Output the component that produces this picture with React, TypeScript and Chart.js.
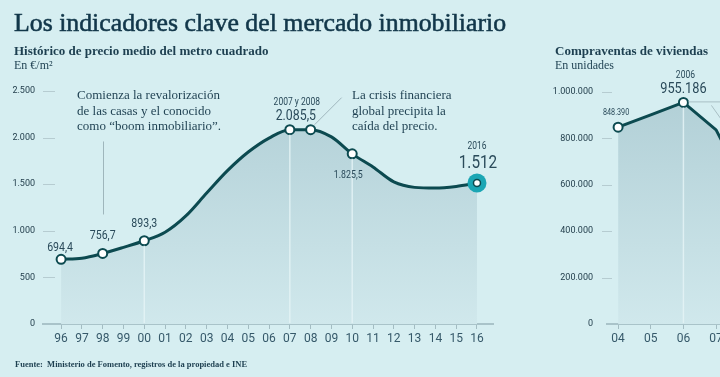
import React, { useEffect, useRef } from "react";
import { Chart, registerables } from "chart.js";

Chart.register(...registerables);

// ---------- DATA ----------
const priceYears = [1996, 1997, 1998, 1999, 2000, 2001, 2002, 2003, 2004, 2005, 2006, 2007, 2008, 2009, 2010, 2011, 2012, 2013, 2014, 2015, 2016];
const priceYearLabels = ["96", "97", "98", "99", "00", "01", "02", "03", "04", "05", "06", "07", "08", "09", "10", "11", "12", "13", "14", "15", "16"];
const priceValues = [694.4, 706, 756.7, 822, 893.3, 985, 1160, 1405, 1645, 1845, 1995, 2085.5, 2085.5, 2008, 1825.5, 1685, 1525, 1466, 1458, 1476, 1512];
const priceYTicks = [0, 500, 1000, 1500, 2000, 2500];
const priceMarkedYears = [1996, 1998, 2000, 2007, 2008, 2010];
const priceDropLineYears = [2000, 2007, 2010];

const salesYears = [2004, 2005, 2006, 2007, 2008];
const salesYearLabels = ["04", "05", "06", "07", "08"];
const salesValues = [848390, 901574, 955186, 836871, 564464];
const salesYTicks = [0, 200000, 400000, 600000, 800000, 1000000];
const salesMarkedYears = [2004, 2006];
const salesDropLineYears = [2006];

// ---------- STYLE ----------
const BG = "#d6eef1";
const LINE = "#0c4a50";
const TEXT = "#1d3f50";
const NUM = "#2a4a5a";
const HALO = "#1ba6b4";

function fmtEs(v: number, dec = 0): string {
  const [i, d] = v.toFixed(dec).split(".");
  const int = i.replace(/\B(?=(\d{3})+(?!\d))/g, ".");
  return d ? int + "," + d : int;
}

function txt(ctx: CanvasRenderingContext2D, s: string, x: number, y: number, font: string, color: string, sx = 1, align: CanvasTextAlign = "center") {
  ctx.save();
  ctx.font = font;
  ctx.fillStyle = color;
  ctx.textAlign = align;
  ctx.textBaseline = "alphabetic";
  ctx.translate(x, y);
  ctx.scale(sx, 1);
  ctx.fillText(s, 0, 0);
  ctx.restore();
}

function seg(ctx: CanvasRenderingContext2D, x1: number, y1: number, x2: number, y2: number) {
  ctx.beginPath();
  ctx.moveTo(x1, y1);
  ctx.lineTo(x2, y2);
  ctx.stroke();
}

function fillGradient(chart: any) {
  const { ctx, chartArea } = chart;
  if (!chartArea) return "#c2dde3";
  const g = ctx.createLinearGradient(0, chartArea.top, 0, chartArea.bottom);
  g.addColorStop(0, "#b1cfd6");
  g.addColorStop(1, "#d0e8ec");
  return g;
}

const NUMFONT = "Roboto, 'DejaVu Sans', sans-serif";

const pricePlugin = {
  id: "priceDecor",
  afterDatasetsDraw(chart: any) {
    const { ctx, chartArea } = chart;
    const xs = chart.scales.x;
    const ys = chart.scales.y;
    const px = (yr: number) => xs.getPixelForValue(yr);
    const py = (yr: number) => ys.getPixelForValue(priceValues[priceYears.indexOf(yr)]);
    ctx.save();
    // y tick dashes
    ctx.strokeStyle = "#b6ccd1";
    ctx.lineWidth = 1;
    priceYTicks.forEach((t) => {
      if (t === 0) return;
      const y = Math.round(ys.getPixelForValue(t)) + 0.5;
      seg(ctx, chartArea.left, y, chartArea.left + 12, y);
    });
    // drop lines
    ctx.strokeStyle = "rgba(228,243,246,0.85)";
    ctx.lineWidth = 1.5;
    priceDropLineYears.forEach((yr) => seg(ctx, px(yr), py(yr) + 5, px(yr), chartArea.bottom - 1));
    // leader lines
    ctx.strokeStyle = "#9fb6bc";
    ctx.lineWidth = 1;
    seg(ctx, Math.round(px(1998)) + 0.5, py(1998) - 112, Math.round(px(1998)) + 0.5, py(1998) - 39);
    seg(ctx, px(2008) + 4, py(2008) - 5, px(2008) + 31, py(2008) - 32);
    // 2016 halo point
    const x16 = px(2016), y16 = py(2016);
    ctx.fillStyle = HALO;
    ctx.beginPath(); ctx.arc(x16, y16, 9.5, 0, Math.PI * 2); ctx.fill();
    ctx.fillStyle = "#ffffff";
    ctx.strokeStyle = LINE;
    ctx.lineWidth = 1.5;
    ctx.beginPath(); ctx.arc(x16, y16, 3.5, 0, Math.PI * 2); ctx.fill(); ctx.stroke();
    ctx.restore();

    // value labels
    const v = (yr: number) => priceValues[priceYears.indexOf(yr)];
    txt(ctx, fmtEs(v(1996), 1), px(1996) - 1, py(1996) - 8, `12px ${NUMFONT}`, NUM, 0.88);
    txt(ctx, fmtEs(v(1998), 1), px(1998), py(1998) - 14, `12px ${NUMFONT}`, NUM, 0.88);
    txt(ctx, fmtEs(v(2000), 1), px(2000), py(2000) - 14, `12px ${NUMFONT}`, NUM, 0.88);
    txt(ctx, "2007 y 2008", px(2007) + 7, py(2007) - 25, `10px ${NUMFONT}`, NUM, 0.85);
    txt(ctx, fmtEs(v(2007), 1), px(2007) + 6, py(2007) - 9.5, `14px ${NUMFONT}`, NUM, 0.88);
    txt(ctx, fmtEs(v(2010), 1), px(2010) - 4, py(2010) + 24, `11px ${NUMFONT}`, NUM, 0.8);
    txt(ctx, "2016", px(2016), py(2016) - 34, `10px ${NUMFONT}`, NUM, 0.85);
    txt(ctx, fmtEs(v(2016), 0), px(2016) + 1, py(2016) - 15, `18px ${NUMFONT}`, NUM, 0.85);
  },
};

const salesPlugin = {
  id: "salesDecor",
  afterDatasetsDraw(chart: any) {
    const { ctx, chartArea } = chart;
    const xs = chart.scales.x;
    const ys = chart.scales.y;
    const px = (yr: number) => xs.getPixelForValue(yr);
    const py = (yr: number) => ys.getPixelForValue(salesValues[salesYears.indexOf(yr)]);
    ctx.save();
    ctx.strokeStyle = "#b6ccd1";
    ctx.lineWidth = 1;
    salesYTicks.forEach((t) => {
      if (t === 0) return;
      const y = Math.round(ys.getPixelForValue(t)) + 0.5;
      seg(ctx, chartArea.left - 5, y, chartArea.left + 5, y);
    });
    ctx.strokeStyle = "rgba(228,243,246,0.85)";
    ctx.lineWidth = 1.5;
    salesDropLineYears.forEach((yr) => seg(ctx, px(yr), py(yr) + 5, px(yr), chartArea.bottom - 1));
    ctx.strokeStyle = "#a9bfc4";
    ctx.lineWidth = 1;
    seg(ctx, px(2006) + 5, py(2006) - 0.5, px(2006) + 70, py(2006) - 0.5);
    seg(ctx, px(2006) + 28, py(2006) + 3, px(2006) + 40, py(2006) + 20);
    ctx.restore();
    const v = (yr: number) => salesValues[salesYears.indexOf(yr)];
    txt(ctx, fmtEs(v(2004)), px(2004) - 2, py(2004) - 12, `9px ${NUMFONT}`, NUM, 0.8);
    txt(ctx, "2006", px(2006) + 2, py(2006) - 24, `10px ${NUMFONT}`, NUM, 0.85);
    txt(ctx, fmtEs(v(2006)), px(2006), py(2006) - 9, `15px ${NUMFONT}`, NUM, 0.85);
  },
};

function baseOptions(padding: any, xMin: number, xMax: number, years: number[], labels: string[], yMax: number, yTicks: number[], yWidth: number, yPad: number) {
  return {
    animation: false,
    responsive: false,
    maintainAspectRatio: false,
    devicePixelRatio: 1,
    events: [],
    layout: { padding },
    plugins: { legend: { display: false }, tooltip: { enabled: false }, title: { display: false } },
    scales: {
      x: {
        type: "linear",
        min: xMin,
        max: xMax,
        afterBuildTicks: (s: any) => { s.ticks = years.map((y) => ({ value: y })); },
        afterFit: (s: any) => { s.height = 24; },
        ticks: {
          autoSkip: false,
          maxRotation: 0,
          padding: 3,
          color: "#36596a",
          font: { family: NUMFONT, size: 12 },
          callback: (val: number) => { const i = years.indexOf(val); return i >= 0 ? labels[i] : ""; },
        },
        grid: { display: true, drawOnChartArea: false, drawTicks: true, tickLength: 5, tickColor: "#a3bcc2", tickWidth: 1 },
        border: { display: true, color: "#a9c3c9", width: 2 },
      },
      y: {
        type: "linear",
        min: 0,
        max: yMax,
        afterBuildTicks: (s: any) => { s.ticks = yTicks.map((v) => ({ value: v })); },
        afterFit: (s: any) => { s.width = yWidth; },
        ticks: {
          padding: yPad,
          color: "#25404e",
          font: { family: NUMFONT, size: 9 },
          callback: (val: number) => fmtEs(val),
        },
        grid: { display: true, drawOnChartArea: false, drawTicks: false },
        border: { display: false },
      },
    },
  };
}

export default function App() {
  const leftRef = useRef<HTMLCanvasElement>(null);
  const rightRef = useRef<HTMLCanvasElement>(null);

  useEffect(() => {
    const left = new Chart(leftRef.current as HTMLCanvasElement, {
      type: "line",
      data: {
        datasets: [
          {
            data: priceYears.map((x, i) => ({ x, y: priceValues[i] })),
            borderColor: LINE,
            borderWidth: 3,
            cubicInterpolationMode: "monotone",
            fill: "origin",
            backgroundColor: (c: any) => fillGradient(c.chart),
            pointRadius: priceYears.map((y) => (priceMarkedYears.includes(y) ? 4.5 : 0)),
            pointBackgroundColor: "#ffffff",
            pointBorderColor: LINE,
            pointBorderWidth: 2,
            clip: 12,
          },
        ],
      },
      options: baseOptions({ left: 0, right: 47, top: 91, bottom: 29 }, 1995.13, 2016.77, priceYears, priceYearLabels, 2500, priceYTicks, 43, 8) as any,
      plugins: [pricePlugin],
    } as any);

    const right = new Chart(rightRef.current as HTMLCanvasElement, {
      type: "line",
      data: {
        datasets: [
          {
            data: salesYears.map((x, i) => ({ x, y: salesValues[i] })),
            borderColor: LINE,
            borderWidth: 3,
            tension: 0,
            fill: "origin",
            backgroundColor: (c: any) => fillGradient(c.chart),
            pointRadius: salesYears.map((y) => (salesMarkedYears.includes(y) ? 4.5 : 0)),
            pointBackgroundColor: "#ffffff",
            pointBorderColor: LINE,
            pointBorderWidth: 2,
            clip: 12,
          },
        ],
      },
      options: baseOptions({ left: 0, right: 10, top: 92, bottom: 29 }, 2003.66, 2016, salesYears, salesYearLabels, 1000000, salesYTicks, 67, 14) as any,
      plugins: [salesPlugin],
    } as any);

    return () => {
      left.destroy();
      right.destroy();
    };
  }, []);

  const serif = "'Liberation Serif', 'Times New Roman', serif";
  const abs = (l: number, t: number, extra: any = {}) => ({ position: "absolute" as const, left: l, top: t, whiteSpace: "nowrap" as const, margin: 0, ...extra });

  return (
    <div style={{ position: "fixed", left: 0, top: 0, width: 720, height: 377, overflow: "hidden", background: BG, fontFamily: serif, color: TEXT }}>
      <canvas ref={leftRef} width={540} height={377} style={{ position: "absolute", left: 0, top: 0 }} />
      <canvas ref={rightRef} width={480} height={377} style={{ position: "absolute", left: 540, top: 0 }} />
      <div style={abs(14, 10, { fontSize: 25.8, lineHeight: "25.8px", color: "#12374a", WebkitTextStroke: "0.55px #12374a" })}>
        Los indicadores clave del mercado inmobiliario
      </div>
      <div style={abs(14, 43.5, { fontSize: 13, lineHeight: "13px", fontWeight: 700 })}>Histórico de precio medio del metro cuadrado</div>
      <div style={abs(14, 59, { fontSize: 12, lineHeight: "12px" })}>En €/m²</div>
      <div style={abs(555, 43.5, { fontSize: 13, lineHeight: "13px", fontWeight: 700 })}>Compraventas de viviendas</div>
      <div style={abs(555, 59, { fontSize: 12, lineHeight: "12px" })}>En unidades</div>
      <div style={abs(77, 87, { fontSize: 13, lineHeight: "15.5px" })}>
        Comienza la revalorización<br />de las casas y el conocido<br />como “boom inmobiliario”.
      </div>
      <div style={abs(352, 87, { fontSize: 13, lineHeight: "15.5px" })}>
        La crisis financiera<br />global precipita la<br />caída del precio.
      </div>
      <div style={abs(15, 359.5, { fontSize: 8.5, lineHeight: "8.5px", fontWeight: 700 })}>
        Fuente:&nbsp; Ministerio de Fomento, registros de la propiedad e INE
      </div>
    </div>
  );
}
